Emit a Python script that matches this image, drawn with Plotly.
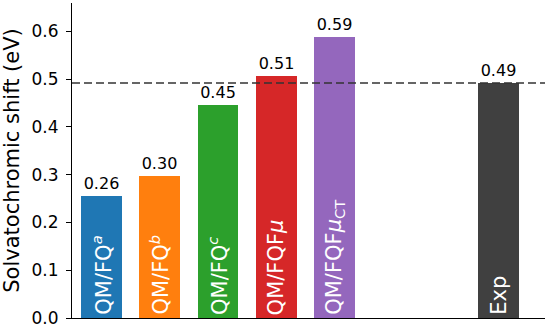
import plotly.graph_objects as go

labels = ["QM/FQ<sup><i>a</i></sup>", "QM/FQ<sup><i>b</i></sup>", "QM/FQ<sup><i>c</i></sup>",
          "QM/FQF<i>μ</i>", "QM/FQF<i>μ</i><sub>CT</sub>", "Exp"]
x_pos = [0, 1, 2, 3, 4, 6.8]
values = [0.256, 0.297, 0.446, 0.506, 0.587, 0.4915]
value_text = ["0.26", "0.30", "0.45", "0.51", "0.59", "0.49"]
colors = ["#1f77b4", "#ff7f0e", "#2ca02c", "#d62728", "#9467bd", "#404040"]
exp_value = values[-1]

fig = go.Figure()
fig.add_trace(go.Bar(
    x=x_pos, y=values, width=0.7, marker=dict(color=colors, line=dict(width=0)),
    text=value_text, textposition="outside", cliponaxis=False,
    textfont=dict(family="DejaVu Sans", size=16, color="black"),
    showlegend=False, hoverinfo="skip",
))

for xp, lab in zip(x_pos, labels):
    fig.add_annotation(x=xp, y=0, text=lab, textangle=-90, showarrow=False,
                       xanchor="center", yanchor="bottom", yshift=1,
                       font=dict(family="DejaVu Sans", size=21, color="white"))

fig.add_shape(type="line", xref="paper", x0=0, x1=1, yref="y", y0=exp_value, y1=exp_value,
              line=dict(color="#333333", width=1.5, dash="8px,4px"), layer="above")

fig.update_layout(
    width=550, height=328,
    margin=dict(l=72, r=5, t=3, b=10),
    plot_bgcolor="white", paper_bgcolor="white",
    font=dict(family="DejaVu Sans", color="black"),
    bargap=0,
)
fig.update_xaxes(range=[-0.5, 7.6], showticklabels=False, ticks="", showgrid=False,
                 zeroline=False, showline=True, linecolor="black", linewidth=1.2,
                 automargin=False)
fig.update_yaxes(range=[0, 0.659], tickvals=[0, 0.1, 0.2, 0.3, 0.4, 0.5, 0.6],
                 ticktext=["0.0", "0.1", "0.2", "0.3", "0.4", "0.5", "0.6"],
                 ticks="outside", ticklen=5, tickwidth=1.2, tickcolor="black",
                 ticklabelstandoff=4,
                 tickfont=dict(size=17), showgrid=False, zeroline=False,
                 showline=True, linecolor="black", linewidth=1.2, automargin=False,
                 title=dict(text="Solvatochromic shift (eV)", font=dict(size=21), standoff=6))

fig.write_html("out.html", config={"displayModeBar": False},
               post_script="document.body.style.margin='0';")
